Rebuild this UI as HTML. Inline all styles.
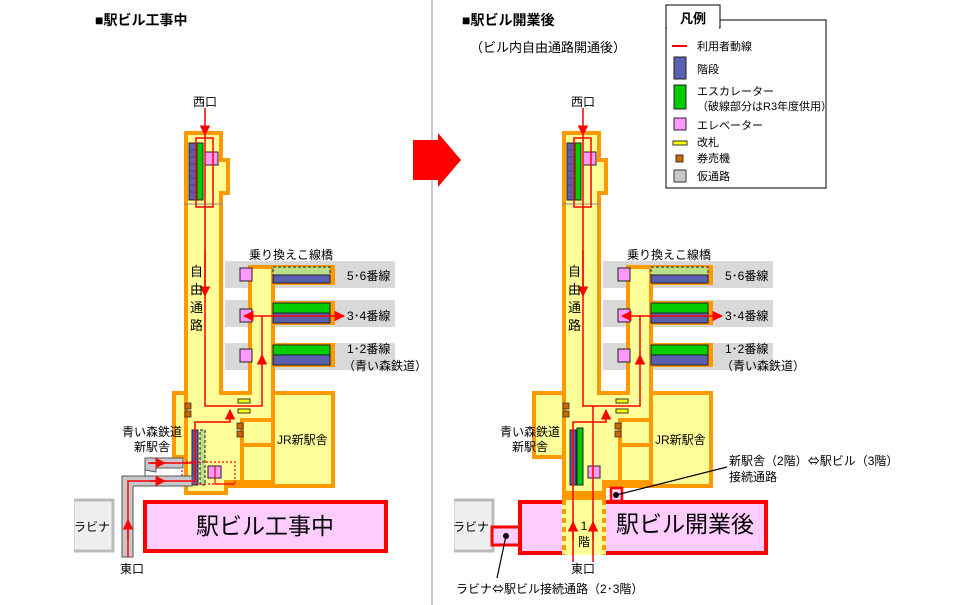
<!DOCTYPE html>
<html><head><meta charset="utf-8"><style>
html,body{margin:0;padding:0;background:#fff;}
svg{display:block;font-family:"Liberation Sans","Noto Sans CJK JP",sans-serif;}
.cjk{font-family:"Noto Sans CJK JP",sans-serif;}
</style></head><body>
<svg width="968" height="605" viewBox="0 0 968 605" xmlns="http://www.w3.org/2000/svg">
<defs>
<marker id="ah" viewBox="0 0 10 10" refX="9" refY="5" markerWidth="7" markerHeight="7" orient="auto"><path d="M0,0L10,5L0,10z" fill="#f00"/></marker>
<g id="core">
 <rect x="225" y="261" width="170" height="27" fill="#d9d9d9"/>
 <rect x="225" y="300" width="170" height="27" fill="#d9d9d9"/>
 <rect x="225" y="343" width="170" height="27" fill="#d9d9d9"/>
 <g fill="#ff9900">
  <rect x="184" y="131" width="39" height="268"/>
  <rect x="221" y="158" width="9" height="37"/>
  <rect x="248" y="265" width="27" height="134"/>
  <rect x="184" y="391" width="151" height="97"/>
  <rect x="184" y="480" width="44" height="15"/>
  <rect x="272" y="265" width="63" height="20"/>
  <rect x="272" y="301" width="63" height="24"/>
  <rect x="272" y="343" width="63" height="24"/>
 </g>
 <g fill="#ffff99">
  <rect x="188" y="135" width="31" height="266"/>
  <rect x="218" y="162" width="8" height="29"/>
  <rect x="252" y="269" width="19" height="132"/>
  <rect x="188" y="395" width="143" height="89"/>
  <rect x="188" y="480" width="36" height="11"/>
 </g>
 <g fill="#ff9900">
  <rect x="271" y="393" width="4" height="93"/>
  <rect x="240" y="418" width="4" height="68"/>
  <rect x="240" y="418" width="33" height="4"/>
  <rect x="240" y="443" width="33" height="4"/>
  <rect x="224" y="480" width="50" height="8"/>
 </g>
 <line x1="184" y1="204" x2="223" y2="204" stroke="#888" stroke-width="1"/>
 <rect x="189" y="143" width="8" height="57" fill="#5b5fb0" stroke="#222" stroke-width="1"/>
 <g stroke="#333" stroke-width="0.5"><line x1="189" y1="150" x2="197" y2="150"/><line x1="189" y1="157" x2="197" y2="157"/><line x1="189" y1="164" x2="197" y2="164"/><line x1="189" y1="171" x2="197" y2="171"/><line x1="189" y1="178" x2="197" y2="178"/><line x1="189" y1="185" x2="197" y2="185"/><line x1="189" y1="192" x2="197" y2="192"/></g>
 <rect x="197" y="143" width="6" height="57" fill="#00cc00" stroke="#222" stroke-width="1"/>
 <rect x="205" y="152" width="13" height="13" fill="#ff99ff" stroke="#222" stroke-width="1"/>
 <rect x="196" y="138" width="17" height="69" fill="none" stroke="#f00" stroke-width="1.5"/>
 <rect x="273" y="267" width="57" height="8" fill="#b8e08a" stroke="#222" stroke-width="1" stroke-dasharray="3,2"/>
 <rect x="273" y="275" width="57" height="8" fill="#5b5fb0" stroke="#222" stroke-width="1"/>
 <rect x="273" y="303" width="57" height="10" fill="#00cc00" stroke="#222" stroke-width="1"/>
 <rect x="273" y="313" width="57" height="10" fill="#5b5fb0" stroke="#222" stroke-width="1"/>
 <rect x="273" y="345" width="57" height="10" fill="#00cc00" stroke="#222" stroke-width="1"/>
 <rect x="273" y="355" width="57" height="10" fill="#5b5fb0" stroke="#222" stroke-width="1"/>
 <rect x="240" y="268" width="12" height="13" fill="#ff99ff" stroke="#222" stroke-width="1"/>
 <rect x="240" y="309" width="12" height="13" fill="#ff99ff" stroke="#222" stroke-width="1"/>
 <rect x="240" y="349" width="12" height="13" fill="#ff99ff" stroke="#222" stroke-width="1"/>
 <rect x="238" y="399" width="12" height="4" fill="#ffff00" stroke="#333" stroke-width="1"/>
 <rect x="238" y="409" width="12" height="4" fill="#ffff00" stroke="#333" stroke-width="1"/>
 <rect x="185" y="403" width="6" height="6" fill="#cc6600" stroke="#333" stroke-width="0.8"/>
 <rect x="185" y="411" width="6" height="6" fill="#cc6600" stroke="#333" stroke-width="0.8"/>
 <rect x="237" y="423" width="6" height="6" fill="#cc6600" stroke="#333" stroke-width="0.8"/>
 <rect x="237" y="431" width="6" height="6" fill="#cc6600" stroke="#333" stroke-width="0.8"/>
 <line x1="205" y1="108" x2="205" y2="135" stroke="#f00" stroke-width="1.5" marker-end="url(#ah)"/>
 <polyline points="205,135 205,406 262,406 262,355" fill="none" stroke="#f00" stroke-width="1.5" marker-end="url(#ah)"/>
 <line x1="205" y1="250" x2="205" y2="296" stroke="#f00" stroke-width="1.5" marker-end="url(#ah)"/>
 <line x1="262" y1="316" x2="244" y2="316" stroke="#f00" stroke-width="1.5" marker-end="url(#ah)"/>
 <line x1="262" y1="316" x2="344" y2="316" stroke="#f00" stroke-width="1.5" marker-end="url(#ah)"/>
 <line x1="262" y1="355" x2="262" y2="316" stroke="#f00" stroke-width="1.5"/>
</g>
</defs>

<line x1="432" y1="0" x2="432" y2="605" stroke="#999" stroke-width="1"/>

<text x="95" y="25" font-size="14" font-weight="bold">■駅ビル工事中</text>
<text x="462" y="25" font-size="14" font-weight="bold">■駅ビル開業後</text>
<text x="470" y="52" font-size="13">（ビル内自由通路開通後）</text>

<path d="M413,140 L438,140 L438,133 L461,160 L438,187 L438,180 L413,180 Z" fill="#f00"/>

<rect x="172" y="391" width="16" height="68" fill="#ff9900"/>
<rect x="176" y="395" width="14" height="60" fill="#ffff99"/>
<use href="#core"/>
<rect x="192" y="430" width="6" height="55" fill="#5b5fb0" stroke="#222" stroke-width="1"/>
<rect x="200" y="430" width="5" height="55" fill="#b8e08a" stroke="#222" stroke-width="1" stroke-dasharray="3,2"/>
<rect x="208" y="466" width="13" height="12" fill="#ff99ff" stroke="#222" stroke-width="1"/>
<rect x="182" y="462" width="53" height="22" fill="none" stroke="#f00" stroke-width="1.2" stroke-dasharray="2,2"/>
<path d="M122,557 L122,476 L192,476 L192,486 L133,486 L133,557 Z" fill="#c8c8cc" stroke="#555" stroke-width="1"/>
<path d="M145,470 L145,458 L183,458 L183,468 L156,468 L156,472 Z" fill="#c8c8cc" stroke="#555" stroke-width="1"/>
<path d="M122,476 L145,476 L145,458" fill="none" stroke="#555" stroke-width="1"/>
<polyline points="128,557 128,481 195,481 195,422 230,422 230,410" fill="none" stroke="#f00" stroke-width="1.5" marker-end="url(#ah)"/>
<line x1="128" y1="540" x2="128" y2="520" stroke="#f00" stroke-width="1.5" marker-end="url(#ah)"/>
<line x1="150" y1="481" x2="165" y2="481" stroke="#f00" stroke-width="1.5" marker-end="url(#ah)"/>
<polyline points="148,463 195,463" fill="none" stroke="#f00" stroke-width="1.5"/>
<line x1="150" y1="463" x2="165" y2="463" stroke="#f00" stroke-width="1.5" marker-end="url(#ah)"/>
<polyline points="215,466 215,484 235,484" fill="none" stroke="#f00" stroke-width="1.2"/>
<rect x="73" y="500" width="40" height="51" fill="#eee" stroke="#bbb" stroke-width="3"/>
<rect x="60" y="498" width="14" height="55" fill="#fff"/>
<text x="74" y="531" font-size="12">ラビナ</text>
<rect x="145" y="502" width="241" height="49" fill="#ffccff" stroke="#f00" stroke-width="4"/>
<text x="265" y="534" font-size="23" text-anchor="middle">駅ビル工事中</text>
<text x="205" y="106" font-size="12" text-anchor="middle">西口</text>
<text x="190" y="276" font-size="13">自</text>
<text x="190" y="294" font-size="13">由</text>
<text x="190" y="312" font-size="13">通</text>
<text x="190" y="330" font-size="13">路</text>
<text x="249" y="259" font-size="12">乗り換えこ線橋</text>
<text x="347" y="280" font-size="12">5･6番線</text>
<text x="347" y="320" font-size="12">3･4番線</text>
<text x="347" y="353" font-size="12">1･2番線</text>
<text x="343" y="370" font-size="12">（青い森鉄道）</text>
<text x="277" y="444" font-size="12">JR新駅舎</text>
<text x="122" y="436" font-size="12">青い森鉄道</text>
<text x="134" y="451" font-size="12">新駅舎</text>
<text x="120" y="573" font-size="12">東口</text>

<rect x="532" y="391" width="34" height="68" fill="#ff9900"/>
<rect x="536" y="395" width="30" height="60" fill="#ffff99"/>
<use href="#core" transform="translate(378,0)"/>
<rect x="570" y="430" width="6" height="55" fill="#5b5fb0" stroke="#222" stroke-width="1"/>
<rect x="577" y="428" width="6" height="57" fill="#00cc00" stroke="#222" stroke-width="1"/>
<rect x="588" y="466" width="12" height="12" fill="#ff99ff" stroke="#222" stroke-width="1"/>
<rect x="453" y="500" width="40" height="51" fill="#eee" stroke="#bbb" stroke-width="3"/>
<rect x="440" y="498" width="14" height="55" fill="#fff"/>
<text x="453" y="531" font-size="12">ラビナ</text>
<rect x="492" y="527" width="28" height="18" fill="#ffccff" stroke="#f00" stroke-width="3"/>
<rect x="520" y="502" width="246" height="51" fill="#ffccff" stroke="#f00" stroke-width="4"/>
<rect x="562" y="495" width="44" height="60" fill="#ffff99"/>
<rect x="562" y="495" width="44" height="5" fill="#ff9900"/>
<line x1="564" y1="500" x2="564" y2="555" stroke="#ff9900" stroke-width="4" stroke-dasharray="5,4"/>
<line x1="604" y1="500" x2="604" y2="555" stroke="#ff9900" stroke-width="4" stroke-dasharray="5,4"/>
<rect x="611" y="488" width="11" height="13" fill="#ffccff" stroke="#f00" stroke-width="2.5"/>
<text x="685" y="532" font-size="23" text-anchor="middle">駅ビル開業後</text>
<text x="584" y="530" font-size="12" text-anchor="middle">1</text>
<text x="584" y="546" font-size="12" text-anchor="middle">階</text>
<polyline points="573,562 573,422 606,422 606,410" fill="none" stroke="#f00" stroke-width="1.5" marker-end="url(#ah)"/>
<line x1="593" y1="562" x2="593" y2="406" stroke="#f00" stroke-width="1.5"/>
<line x1="573" y1="540" x2="573" y2="522" stroke="#f00" stroke-width="1.5" marker-end="url(#ah)"/>
<line x1="593" y1="540" x2="593" y2="522" stroke="#f00" stroke-width="1.5" marker-end="url(#ah)"/>
<circle cx="616" cy="495" r="3" fill="#000"/>
<line x1="616" y1="495" x2="727" y2="467" stroke="#000" stroke-width="1.2"/>
<circle cx="506" cy="536" r="3" fill="#000"/>
<line x1="506" y1="536" x2="497" y2="578" stroke="#000" stroke-width="1.2"/>
<text x="583" y="106" font-size="12" text-anchor="middle">西口</text>
<text x="568" y="276" font-size="13">自</text>
<text x="568" y="294" font-size="13">由</text>
<text x="568" y="312" font-size="13">通</text>
<text x="568" y="330" font-size="13">路</text>
<text x="627" y="259" font-size="12">乗り換えこ線橋</text>
<text x="725" y="280" font-size="12">5･6番線</text>
<text x="725" y="320" font-size="12">3･4番線</text>
<text x="725" y="353" font-size="12">1･2番線</text>
<text x="721" y="370" font-size="12">（青い森鉄道）</text>
<text x="655" y="444" font-size="12">JR新駅舎</text>
<text x="500" y="436" font-size="12">青い森鉄道</text>
<text x="512" y="451" font-size="12">新駅舎</text>
<text x="571" y="573" font-size="12">東口</text>
<text x="729" y="465" font-size="12">新駅舎（2階）<tspan class="cjk">⇔</tspan>駅ビル（3階）</text>
<text x="729" y="481" font-size="12">接続通路</text>
<text x="456" y="593" font-size="12">ラビナ<tspan class="cjk">⇔</tspan>駅ビル接続通路（2･3階）</text>

<rect x="666" y="20" width="160" height="168" fill="#fff" stroke="#000" stroke-width="1"/>
<rect x="666" y="5" width="54" height="23" fill="#fff" stroke="#000" stroke-width="1"/>
<rect x="667" y="26" width="52" height="4" fill="#fff"/>
<text x="693" y="23" font-size="13" font-weight="bold" text-anchor="middle">凡例</text>
<line x1="672" y1="46" x2="687" y2="46" stroke="#f00" stroke-width="2"/>
<text x="697" y="50" font-size="11">利用者動線</text>
<rect x="674" y="57" width="12" height="22" fill="#5b5fb0" stroke="#222"/>
<text x="697" y="73" font-size="11">階段</text>
<rect x="674" y="85" width="12" height="24" fill="#00cc00" stroke="#222"/>
<text x="697" y="95" font-size="11">エスカレーター</text>
<text x="697" y="110" font-size="11">（破線部分はR3年度供用）</text>
<rect x="674" y="118" width="12" height="12" fill="#ff99ff" stroke="#222"/>
<text x="697" y="129" font-size="11">エレベーター</text>
<rect x="673" y="141" width="14" height="4" fill="#ffff00" stroke="#333"/>
<text x="697" y="146" font-size="11">改札</text>
<rect x="676" y="155" width="7" height="7" fill="#cc6600" stroke="#333"/>
<text x="697" y="162" font-size="11">券売機</text>
<rect x="674" y="170" width="12" height="12" fill="#c8c8cc" stroke="#333"/>
<text x="697" y="180" font-size="11">仮通路</text>
</svg>
</body></html>
